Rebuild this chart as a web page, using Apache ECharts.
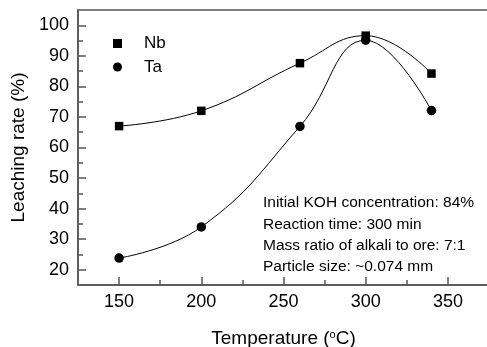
<!DOCTYPE html>
<html>
<head>
<meta charset="utf-8">
<script src="https://cdn.jsdelivr.net/npm/echarts@6/dist/echarts.min.js"></script>
<style>
  html, body { margin: 0; padding: 0; background: #fff; }
  #chart { width: 487px; height: 347px; }
</style>
</head>
<body>
<div id="chart"></div>
<script>
const temperatures = [150, 200, 260, 300, 340];
const nbRate = [67, 72, 87.6, 96.6, 84.2];
const taRate = [23.8, 34, 66.9, 95.1, 72.1];

const xMajorTicks = [150, 200, 250, 300, 350];
const xMinorTicks = [175, 225, 275, 325];
const yMajorTicks = [20, 30, 40, 50, 60, 70, 80, 90, 100];
const yMinorTicks = [25, 35, 45, 55, 65, 75, 85, 95];

const conditions = [
  'Initial KOH concentration: 84%',
  'Reaction time: 300 min',
  'Mass ratio of alkali to ore: 7:1',
  'Particle size: ~0.074 mm'
];

const FONT = '"Liberation Sans", Arial, sans-serif';
const AXIS_COLOR = '#555';

const chart = echarts.init(document.getElementById('chart'));

const hidden = { show: false };
const tickLine = { color: AXIS_COLOR, width: 1.5 };

chart.setOption({
  animation: false,
  grid: {
    left: 78, top: 10, width: 411, height: 275,
    outerBoundsMode: 'none',
    show: true, borderColor: AXIS_COLOR, borderWidth: 1.5
  },
  legend: {
    orient: 'vertical',
    left: 108,
    top: 30,
    itemWidth: 9,
    itemHeight: 9,
    itemGap: 6.5,
    data: [{ name: 'Nb', icon: 'rect' }, { name: 'Ta', icon: 'circle' }],
    textStyle: { fontSize: 17, lineHeight: 17, fontFamily: FONT, color: '#000', padding: [0, 0, 0, 17] }
  },
  xAxis: [
    {
      type: 'value', min: 125, max: 375,
      name: 'Temperature ({sup|o}C)',
      nameLocation: 'middle',
      nameGap: 44,
      nameTextStyle: {
        fontSize: 19, fontFamily: FONT, color: '#000',
        rich: { sup: { fontSize: 11, verticalAlign: 'top', padding: [0, 0, 8, 0], fontFamily: FONT, color: '#000' } }
      },
      axisLine: { show: true, lineStyle: tickLine },
      axisTick: { show: true, inside: true, length: 8, customValues: xMajorTicks, lineStyle: tickLine },
      axisLabel: { customValues: xMajorTicks, margin: 8, fontSize: 18, fontFamily: FONT, color: '#000' },
      splitLine: hidden
    },
    {
      type: 'value', min: 125, max: 375, position: 'bottom',
      axisLine: hidden,
      axisTick: { show: true, inside: true, length: 5, customValues: xMinorTicks, lineStyle: tickLine },
      axisLabel: hidden,
      splitLine: hidden
    }
  ],
  yAxis: [
    {
      type: 'value', min: 15, max: 105,
      name: 'Leaching rate (%)',
      nameLocation: 'middle',
      nameGap: 46,
      nameTextStyle: { fontSize: 19, fontFamily: FONT, color: '#000' },
      axisLine: { show: true, lineStyle: tickLine },
      axisTick: { show: true, inside: true, length: 8, customValues: yMajorTicks, lineStyle: tickLine },
      axisLabel: { customValues: yMajorTicks, margin: 9, fontSize: 18, fontFamily: FONT, color: '#000' },
      splitLine: hidden
    },
    {
      type: 'value', min: 15, max: 105, position: 'left',
      axisLine: hidden,
      axisTick: { show: true, inside: true, length: 5, customValues: yMinorTicks, lineStyle: tickLine },
      axisLabel: hidden,
      splitLine: hidden
    }
  ],
  series: [
    {
      name: 'Nb', type: 'line', smooth: 0.45,
      data: temperatures.map((t, i) => [t, nbRate[i]]),
      symbol: 'rect', symbolSize: 8.5,
      lineStyle: { color: '#000', width: 1 },
      itemStyle: { color: '#000' }
    },
    {
      name: 'Ta', type: 'line', smooth: 0.45,
      data: temperatures.map((t, i) => [t, taRate[i]]),
      symbol: 'circle', symbolSize: 9.5,
      lineStyle: { color: '#000', width: 1 },
      itemStyle: { color: '#000' }
    }
  ],
  graphic: conditions.map((line, i) => ({
    type: 'text',
    style: {
      text: line, x: 263, y: 203 + i * 21.3,
      fontSize: 15.5, fontFamily: FONT, fill: '#000', verticalAlign: 'middle'
    }
  }))
});
</script>
</body>
</html>
